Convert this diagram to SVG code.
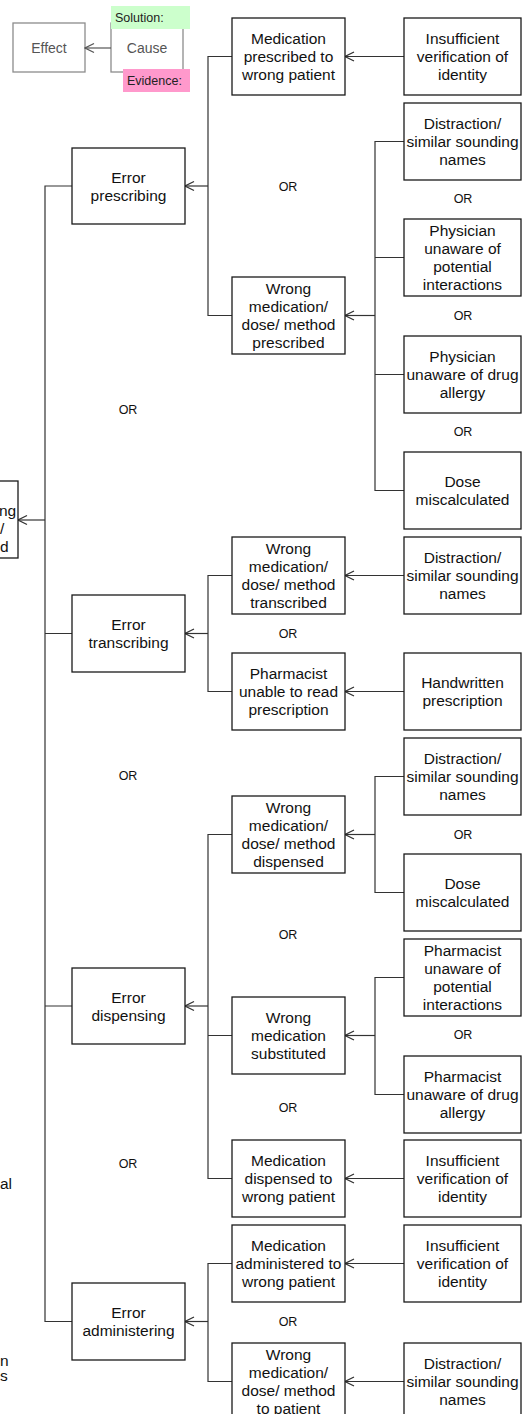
<svg xmlns="http://www.w3.org/2000/svg" width="532" height="1414" viewBox="0 0 532 1414">
<style>
.box{fill:#fff;stroke:#1a1a1a;stroke-width:1.3}
.t{font-family:"Liberation Sans",Arial,sans-serif;font-size:15.5px;fill:#111;text-anchor:middle}
.tl{font-family:"Liberation Sans",Arial,sans-serif;font-size:15.5px;fill:#111}
.or{font-family:"Liberation Sans",Arial,sans-serif;font-size:12.5px;fill:#111;text-anchor:middle}
.lg{fill:#fff;stroke:#8c8c8c;stroke-width:1.3}
.lt{font-family:"Liberation Sans",Arial,sans-serif;font-size:14px;fill:#555;text-anchor:middle}
.st{font-family:"Liberation Sans",Arial,sans-serif;font-size:12.5px;fill:#222}
.c{fill:none;stroke:#333;stroke-width:1.2}
.ca{fill:none;stroke:#333;stroke-width:1.2;marker-end:url(#arr)}
</style>
<defs>
<marker id="arr" markerUnits="userSpaceOnUse" viewBox="0 0 12 12" markerWidth="12" markerHeight="12" refX="10.5" refY="6" orient="auto">
<path d="M1.5,1.5 L10.5,6 L1.5,10.5" fill="none" stroke="#333" stroke-width="1.3"/>
</marker>
<marker id="arrg" markerUnits="userSpaceOnUse" viewBox="0 0 12 12" markerWidth="12" markerHeight="12" refX="10.5" refY="6" orient="auto">
<path d="M1.5,1.5 L10.5,6 L1.5,10.5" fill="none" stroke="#555" stroke-width="1.3"/>
</marker>
</defs>
<rect width="532" height="1414" fill="#fff"/>

<g id="legend">
<rect class="lg" x="13" y="23" width="72" height="49"/>
<text class="lt" x="49" y="53">Effect</text>
<rect class="lg" x="111" y="23" width="72" height="49"/>
<text class="lt" x="147" y="53">Cause</text>
<rect x="111" y="6" width="79" height="23" fill="#ccffcc"/>
<text class="st" x="115" y="21.5">Solution:</text>
<rect x="123" y="69" width="67" height="23" fill="#ff99cc"/>
<text class="st" x="127" y="84.5">Evidence:</text>
<path d="M111,48 H85" fill="none" stroke="#555" stroke-width="1.2" marker-end="url(#arrg)"/>
</g>

<g id="connectors">
<path class="ca" d="M404,56.5 H345"/>
<path class="c" d="M404,141.5 H375 V490.5 H404 M375,257.5 H404 M375,374.5 H404"/>
<path class="ca" d="M375,315.5 H345"/>
<path class="c" d="M232,56.5 H208 V315.5 H232"/>
<path class="ca" d="M208,186 H185"/>

<path class="ca" d="M404,575.5 H345"/>
<path class="ca" d="M404,691.5 H345"/>
<path class="c" d="M232,575.5 H208 V691.5 H232"/>
<path class="ca" d="M208,633.5 H185"/>

<path class="c" d="M404,776.5 H375 V892.5 H404"/>
<path class="ca" d="M375,834.5 H345"/>
<path class="c" d="M404,977.5 H375 V1094.5 H404"/>
<path class="ca" d="M375,1035.5 H345"/>
<path class="ca" d="M404,1178.5 H345"/>
<path class="c" d="M232,834.5 H208 V1178.5 H232 M208,1035.5 H232"/>
<path class="ca" d="M208,1006 H185"/>

<path class="ca" d="M404,1263.5 H345"/>
<path class="ca" d="M404,1381.5 H345"/>
<path class="c" d="M232,1263.5 H208 V1381.5 H232"/>
<path class="ca" d="M208,1321.5 H185"/>

<path class="c" d="M72,186 H45 V1321.5 H72 M45,633.5 H72 M45,1006 H72"/>
<path class="ca" d="M45,520 H18"/>
</g>

<g id="root"><rect class="box" x="-95" y="481" width="113" height="77"/>
<text class="tl" x="-1" y="516">ng</text>
<text class="tl" x="0" y="534">/</text>
<text class="tl" x="0" y="552">d</text></g>

<g id="e1"><rect class="box" x="72" y="148" width="113" height="76"/>
<text class="t" x="128.5" y="182.5">Error<tspan x="128.5" dy="18">prescribing</tspan></text></g>
<g id="e2"><rect class="box" x="72" y="595" width="113" height="77"/>
<text class="t" x="128.5" y="630">Error<tspan x="128.5" dy="18">transcribing</tspan></text></g>
<g id="e3"><rect class="box" x="72" y="968" width="113" height="76"/>
<text class="t" x="128.5" y="1002.5">Error<tspan x="128.5" dy="18">dispensing</tspan></text></g>
<g id="e4"><rect class="box" x="72" y="1283" width="113" height="77"/>
<text class="t" x="128.5" y="1318">Error<tspan x="128.5" dy="18">administering</tspan></text></g>

<g id="p1"><rect class="box" x="232" y="18" width="113" height="77"/>
<text class="t" x="288.5" y="44">Medication<tspan x="288.5" dy="18">prescribed to</tspan><tspan x="288.5" dy="18">wrong patient</tspan></text></g>
<g id="p2"><rect class="box" x="232" y="277" width="113" height="77"/>
<text class="t" x="288.5" y="294">Wrong<tspan x="288.5" dy="18">medication/</tspan><tspan x="288.5" dy="18">dose/ method</tspan><tspan x="288.5" dy="18">prescribed</tspan></text></g>
<g id="t1"><rect class="box" x="232" y="537" width="113" height="77"/>
<text class="t" x="288.5" y="554">Wrong<tspan x="288.5" dy="18">medication/</tspan><tspan x="288.5" dy="18">dose/ method</tspan><tspan x="288.5" dy="18">transcribed</tspan></text></g>
<g id="t2"><rect class="box" x="232" y="653" width="113" height="77"/>
<text class="t" x="288.5" y="679">Pharmacist<tspan x="288.5" dy="18">unable to read</tspan><tspan x="288.5" dy="18">prescription</tspan></text></g>
<g id="d1"><rect class="box" x="232" y="796" width="113" height="77"/>
<text class="t" x="288.5" y="813">Wrong<tspan x="288.5" dy="18">medication/</tspan><tspan x="288.5" dy="18">dose/ method</tspan><tspan x="288.5" dy="18">dispensed</tspan></text></g>
<g id="d2"><rect class="box" x="232" y="997" width="113" height="77"/>
<text class="t" x="288.5" y="1023">Wrong<tspan x="288.5" dy="18">medication</tspan><tspan x="288.5" dy="18">substituted</tspan></text></g>
<g id="d3"><rect class="box" x="232" y="1140" width="113" height="77"/>
<text class="t" x="288.5" y="1166">Medication<tspan x="288.5" dy="18">dispensed to</tspan><tspan x="288.5" dy="18">wrong patient</tspan></text></g>
<g id="a1"><rect class="box" x="232" y="1225" width="113" height="77"/>
<text class="t" x="288.5" y="1251">Medication<tspan x="288.5" dy="18">administered to</tspan><tspan x="288.5" dy="18">wrong patient</tspan></text></g>
<g id="a2"><rect class="box" x="232" y="1343" width="113" height="77"/>
<text class="t" x="288.5" y="1360">Wrong<tspan x="288.5" dy="18">medication/</tspan><tspan x="288.5" dy="18">dose/ method</tspan><tspan x="288.5" dy="18">to patient</tspan></text></g>

<g id="c1"><rect class="box" x="404" y="18" width="117" height="77"/>
<text class="t" x="462.5" y="44">Insufficient<tspan x="462.5" dy="18">verification of</tspan><tspan x="462.5" dy="18">identity</tspan></text></g>
<g id="c2"><rect class="box" x="404" y="103" width="117" height="77"/>
<text class="t" x="462.5" y="129">Distraction/<tspan x="462.5" dy="18">similar sounding</tspan><tspan x="462.5" dy="18">names</tspan></text></g>
<g id="c3"><rect class="box" x="404" y="219" width="117" height="77"/>
<text class="t" x="462.5" y="236">Physician<tspan x="462.5" dy="18">unaware of</tspan><tspan x="462.5" dy="18">potential</tspan><tspan x="462.5" dy="18">interactions</tspan></text></g>
<g id="c4"><rect class="box" x="404" y="336" width="117" height="77"/>
<text class="t" x="462.5" y="362">Physician<tspan x="462.5" dy="18">unaware of drug</tspan><tspan x="462.5" dy="18">allergy</tspan></text></g>
<g id="c5"><rect class="box" x="404" y="452" width="117" height="77"/>
<text class="t" x="462.5" y="487">Dose<tspan x="462.5" dy="18">miscalculated</tspan></text></g>
<g id="c6"><rect class="box" x="404" y="537" width="117" height="77"/>
<text class="t" x="462.5" y="563">Distraction/<tspan x="462.5" dy="18">similar sounding</tspan><tspan x="462.5" dy="18">names</tspan></text></g>
<g id="c7"><rect class="box" x="404" y="653" width="117" height="77"/>
<text class="t" x="462.5" y="688">Handwritten<tspan x="462.5" dy="18">prescription</tspan></text></g>
<g id="c8"><rect class="box" x="404" y="738" width="117" height="77"/>
<text class="t" x="462.5" y="764">Distraction/<tspan x="462.5" dy="18">similar sounding</tspan><tspan x="462.5" dy="18">names</tspan></text></g>
<g id="c9"><rect class="box" x="404" y="854" width="117" height="77"/>
<text class="t" x="462.5" y="889">Dose<tspan x="462.5" dy="18">miscalculated</tspan></text></g>
<g id="c10"><rect class="box" x="404" y="939" width="117" height="77"/>
<text class="t" x="462.5" y="956">Pharmacist<tspan x="462.5" dy="18">unaware of</tspan><tspan x="462.5" dy="18">potential</tspan><tspan x="462.5" dy="18">interactions</tspan></text></g>
<g id="c11"><rect class="box" x="404" y="1056" width="117" height="77"/>
<text class="t" x="462.5" y="1082">Pharmacist<tspan x="462.5" dy="18">unaware of drug</tspan><tspan x="462.5" dy="18">allergy</tspan></text></g>
<g id="c12"><rect class="box" x="404" y="1140" width="117" height="77"/>
<text class="t" x="462.5" y="1166">Insufficient<tspan x="462.5" dy="18">verification of</tspan><tspan x="462.5" dy="18">identity</tspan></text></g>
<g id="c13"><rect class="box" x="404" y="1225" width="117" height="77"/>
<text class="t" x="462.5" y="1251">Insufficient<tspan x="462.5" dy="18">verification of</tspan><tspan x="462.5" dy="18">identity</tspan></text></g>
<g id="c14"><rect class="box" x="404" y="1343" width="117" height="77"/>
<text class="t" x="462.5" y="1369">Distraction/<tspan x="462.5" dy="18">similar sounding</tspan><tspan x="462.5" dy="18">names</tspan></text></g>

<g id="or-labels">
<text class="or" x="128" y="413.5">OR</text>
<text class="or" x="128" y="779.5">OR</text>
<text class="or" x="128" y="1167.5">OR</text>
<text class="or" x="288" y="190.5">OR</text>
<text class="or" x="288" y="637.5">OR</text>
<text class="or" x="288" y="938.5">OR</text>
<text class="or" x="288" y="1111.5">OR</text>
<text class="or" x="288" y="1325.5">OR</text>
<text class="or" x="463" y="202.5">OR</text>
<text class="or" x="463" y="319.5">OR</text>
<text class="or" x="463" y="435.5">OR</text>
<text class="or" x="463" y="838.5">OR</text>
<text class="or" x="463" y="1038.5">OR</text>
</g>

<g id="left-notes">
<text class="tl" x="0" y="1189">al</text>
<text class="tl" x="0" y="1366">n</text>
<text class="tl" x="0" y="1381">s</text>
</g>
</svg>
